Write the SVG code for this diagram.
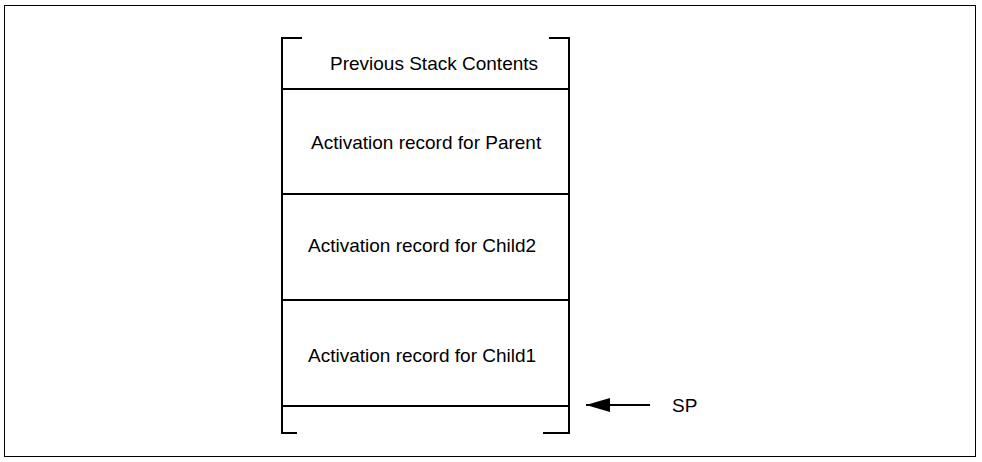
<svg xmlns="http://www.w3.org/2000/svg" width="982" height="462" viewBox="0 0 982 462">
<defs>
<style>
.t{font-family:"Liberation Sans",Arial,sans-serif;font-size:19px;fill:#000}
.l{stroke:#000;stroke-width:2;fill:none}
</style>
<marker id="ah" markerWidth="24" markerHeight="14" refX="24" refY="7" orient="auto" markerUnits="userSpaceOnUse" viewBox="0 0 24 14"><path d="M0,0 L24,7 L0,14 Z" fill="#000"/></marker>
</defs>
<rect width="982" height="462" fill="#fff"/>
<rect x="4.5" y="5.5" width="971" height="451" fill="none" stroke="#000" stroke-width="1"/>
<g id="frame">
<path class="l" d="M302,38 H282 V433 H297"/>
<path class="l" d="M549,38 H569 V433 H543"/>
</g>
<g id="prev"><text class="t" x="330" y="70">Previous Stack Contents</text></g>
<g id="parent"><line class="l" x1="282" y1="89" x2="569" y2="89"/><text class="t" x="311" y="149">Activation record for Parent</text></g>
<g id="child2"><line class="l" x1="282" y1="194" x2="569" y2="194"/><text class="t" x="308" y="252">Activation record for Child2</text></g>
<g id="child1"><line class="l" x1="282" y1="300" x2="569" y2="300"/><text class="t" x="308" y="362">Activation record for Child1</text></g>
<g id="bottom"><line class="l" x1="282" y1="406" x2="569" y2="406"/></g>
<g id="connectors"><line x1="650" y1="405" x2="586" y2="405" stroke="#000" stroke-width="2" marker-end="url(#ah)"/></g>
<g id="sp"><text class="t" x="672" y="412">SP</text></g>
</svg>
